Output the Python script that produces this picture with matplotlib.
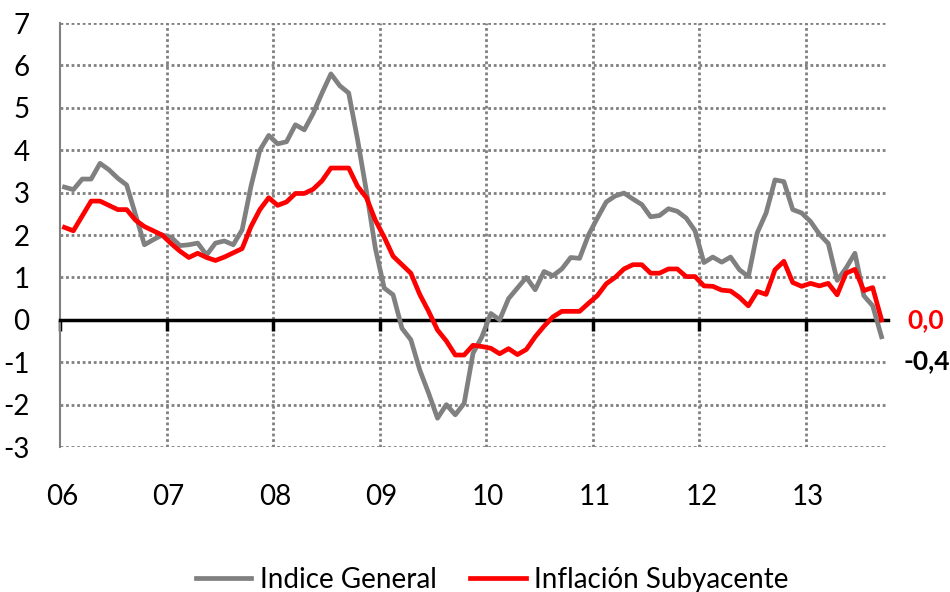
import numpy as np
import matplotlib
matplotlib.use("Agg")
import matplotlib.pyplot as plt
import matplotlib.transforms as mtransforms

plt.rcParams['font.family'] = ['Lato', 'DejaVu Sans']

# Tasas de variación interanual, mensual desde ene-2006 hasta sep-2013
indice_general = [
    3.13, 3.07, 3.32, 3.32, 3.69, 3.54, 3.34, 3.18, 2.48, 1.77, 1.89, 2.0,
    1.95, 1.75, 1.77, 1.81, 1.53, 1.81, 1.86, 1.77, 2.12, 3.15, 4.0, 4.35,
    4.15, 4.2, 4.6, 4.48, 4.87, 5.35, 5.8, 5.52, 5.35, 4.25, 3.03, 1.69,
    0.75, 0.59, -0.2, -0.47, -1.18, -1.73, -2.32, -2.0, -2.24, -1.97, -0.79, -0.4,
    0.15, 0.0, 0.5, 0.75, 1.0, 0.71, 1.14, 1.04, 1.2, 1.47, 1.45, 2.0,
    2.4, 2.78, 2.92, 2.99, 2.85, 2.72, 2.43, 2.46, 2.62, 2.56, 2.4, 2.1,
    1.35, 1.48, 1.36, 1.48, 1.18, 1.02, 2.05, 2.52, 3.3, 3.26, 2.6, 2.52,
    2.32, 2.02, 1.8, 0.93, 1.22, 1.57, 0.57, 0.33, -0.4,
]
inflacion_subyacente = [
    2.18, 2.1, 2.45, 2.8, 2.8, 2.7, 2.6, 2.6, 2.35, 2.2, 2.1, 2.0,
    1.8, 1.62, 1.47, 1.57, 1.47, 1.4, 1.48, 1.58, 1.68, 2.2, 2.6, 2.88,
    2.7, 2.78, 2.98, 2.98, 3.08, 3.28, 3.58, 3.58, 3.58, 3.15, 2.88, 2.35,
    1.95, 1.5, 1.3, 1.1, 0.6, 0.2, -0.24, -0.5, -0.83, -0.83, -0.6, -0.63,
    -0.67, -0.8, -0.68, -0.82, -0.7, -0.4, -0.15, 0.07, 0.2, 0.2, 0.2, 0.39,
    0.57, 0.85, 1.0, 1.2, 1.3, 1.3, 1.1, 1.1, 1.2, 1.2, 1.02, 1.02,
    0.8, 0.79, 0.7, 0.68, 0.53, 0.33, 0.67, 0.6, 1.18, 1.38, 0.88, 0.79,
    0.86, 0.8, 0.86, 0.59, 1.1, 1.19, 0.69, 0.76, 0.0,
]
year_labels = ['06', '07', '08', '09', '10', '11', '12', '13']
last_general = '-0,4'
last_subyacente = '0,0'

# meses desde ene-2006, punto en la mitad del mes
meses = np.arange(len(indice_general)) + 0.5

fig = plt.figure(figsize=(9.5, 5.92), dpi=100)
ax = fig.add_axes([0.0632, 0.2449, 0.8713, 0.7162])

ax.plot(meses, indice_general, color='#808080', lw=3.4, solid_joinstyle='round', zorder=3,
        label='Indice General')
ax.plot(meses, inflacion_subyacente, color='#ff0000', lw=3.4, solid_joinstyle='round', zorder=4,
        label='Inflación Subyacente')

ax.set_xlim(0, 93.2)
ax.set_ylim(-3, 7)
ax.set_yticks(range(-3, 8))
ax.set_yticklabels([str(v) for v in range(-3, 8)], fontsize=20)
ax.tick_params(axis='y', length=0, pad=22)

xt = [12 * k for k in range(len(year_labels))]
ax.set_xticks(xt)
ax.set_xticklabels([])
ax.tick_params(axis='x', direction='out', length=8, width=2.5, color='black')

# grid punteado (puntos cuadrados de ~2-3 px)
ax.hlines([v for v in range(-3, 8) if v != 0], 0, 93.2, colors='#808080',
          linewidths=2.0, linestyles=(0, (1, 1)), zorder=1)
ax.vlines(xt[1:], -3, 7, colors='#808080', linewidths=2.0, linestyles=(0, (1, 1)), zorder=1)

ax.spines['top'].set_visible(False)
ax.spines['right'].set_visible(False)
ax.spines['left'].set_color('#808080')
ax.spines['left'].set_linewidth(1.5)
ax.spines['left'].set_zorder(2.5)
ax.spines['bottom'].set_position(('data', 0))
ax.spines['bottom'].set_linewidth(2.5)
ax.spines['bottom'].set_zorder(2.5)

# etiquetas de años debajo del gráfico
trans = mtransforms.blended_transform_factory(ax.transData, ax.transAxes)
for x, lab in zip(xt, year_labels):
    ax.text(x + 0.2, -0.118, lab, transform=trans, ha='center', va='center', fontsize=20)

# últimos valores
ax.text(95.4, 0.0, last_subyacente, color='#ff0000', fontsize=19, fontweight='bold',
        ha='left', va='center', clip_on=False)
ax.text(95.0, -0.98, last_general, color='black', fontsize=19, fontweight='bold',
        ha='left', va='center', clip_on=False)

fig.legend(loc='center', bbox_to_anchor=(0.518, 0.02), ncol=2, frameon=False,
           fontsize=20, handlelength=2.0, handletextpad=0.3, columnspacing=1.2)

fig.savefig('out.png', dpi=100)
